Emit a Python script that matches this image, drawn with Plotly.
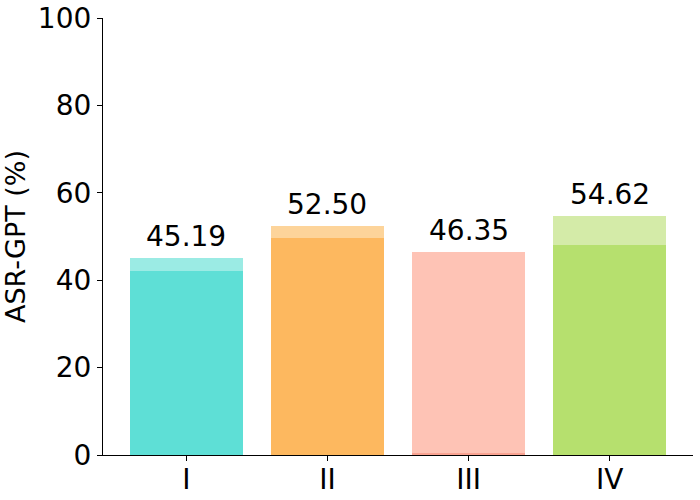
import plotly.graph_objects as go

categories = ["I", "II", "III", "IV"]
totals = [45.19, 52.50, 46.35, 54.62]
base_values = [42.1, 49.6, 0.5, 48.0]
base_colors = ["#5EDFD6", "#FDB85F", "#F9A392", "#B6E06E"]
top_colors = ["#9BEBE4", "#FDD49A", "#FEC3B5", "#D4EBA8"]
tick_vals = [0, 20, 40, 60, 80, 100]

top_values = [t - b for t, b in zip(totals, base_values)]
x = list(range(len(categories)))

fig = go.Figure()
fig.add_trace(go.Bar(x=x, y=base_values, marker=dict(color=base_colors, line=dict(width=0)),
                     width=0.8, showlegend=False))
fig.add_trace(go.Bar(x=x, y=top_values, marker=dict(color=top_colors, line=dict(width=0)),
                     width=0.8, showlegend=False))

for xi, t in zip(x, totals):
    fig.add_annotation(x=xi, y=t, text=f"{t:.2f}", showarrow=False, yanchor="bottom",
                       yshift=3, font=dict(size=28, color="black", family="DejaVu Sans"))

fig.update_layout(
    barmode="stack",
    width=700, height=500,
    margin=dict(l=103, r=7, t=18, b=45),
    plot_bgcolor="white", paper_bgcolor="white",
    font=dict(family="DejaVu Sans", size=26, color="black"),
)
fig.update_xaxes(range=[-0.59, 3.59], tickvals=x, ticktext=categories, showline=True,
                 linecolor="black", linewidth=1.2, ticks="outside", ticklen=5,
                 tickcolor="black", showgrid=False, zeroline=False,
                 tickfont=dict(size=28), automargin=False, ticklabelstandoff=-6,
                 ticklabeloverflow="allow")
fig.update_yaxes(range=[0, 100], tickvals=tick_vals, showline=True, linecolor="black",
                 linewidth=1.2, ticks="outside", ticklen=5, tickcolor="black",
                 showgrid=False, zeroline=False,
                 title=dict(text="ASR-GPT (%)", standoff=12, font=dict(size=27)),
                 tickfont=dict(size=28), automargin=False, ticklabeloverflow="allow")

fig.write_html("out.html", post_script="document.body.style.margin='0';",
               config={"displayModeBar": False})
